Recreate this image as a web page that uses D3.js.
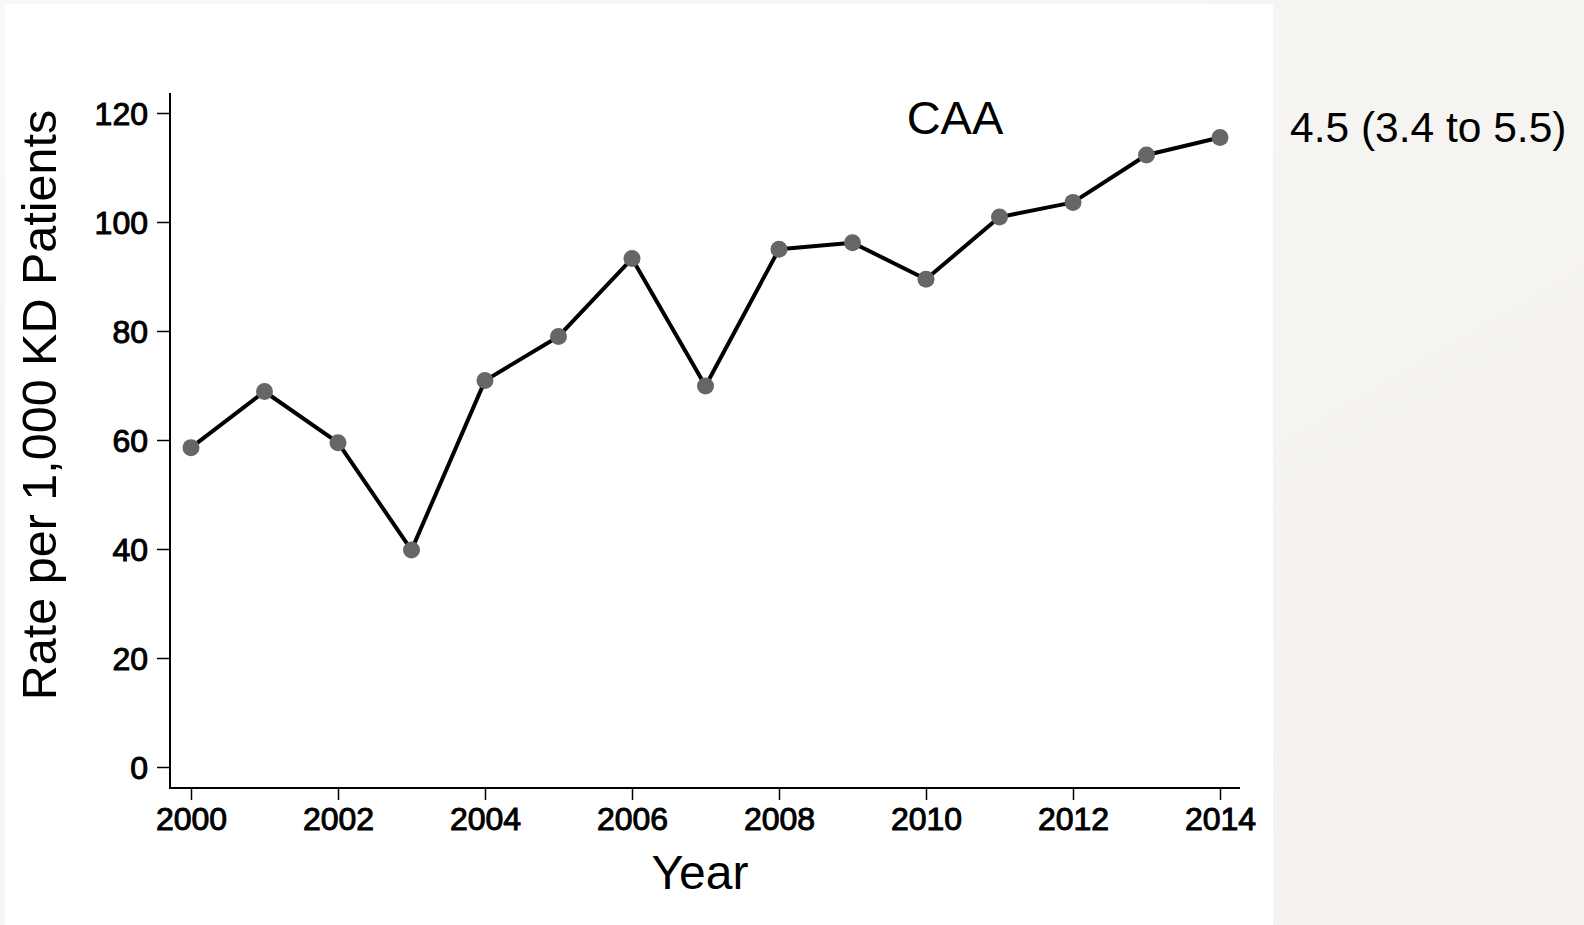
<!DOCTYPE html>
<html>
<head>
<meta charset="utf-8">
<script src="https://cdn.jsdelivr.net/npm/d3@7"></script>
<style>
  html, body { margin: 0; padding: 0; background: #f7f5f2; }
  svg { display: block; }
  text { font-family: "Liberation Sans", Arial, sans-serif; fill: #000; }
</style>
</head>
<body>
<svg id="chart" width="1584" height="925"></svg>
<script>
const years = [2000,2001,2002,2003,2004,2005,2006,2007,2008,2009,2010,2011,2012,2013,2014];
const rates = [58.6,68.9,59.5,39.8,70.9,79.0,93.3,69.9,95.0,96.2,89.5,100.9,103.6,112.3,115.5];
const xTicks = [2000,2002,2004,2006,2008,2010,2012,2014];
const yTicks = [0,20,40,60,80,100,120];
const title = "CAA";
const annotation = "4.5 (3.4 to 5.5)";
const xLabel = "Year";
const yLabel = "Rate per 1,000 KD Patients";

const svg = d3.select("#chart");

// paper background + white plot card
const defs = svg.append("defs");
const grad = defs.append("linearGradient").attr("id","paper").attr("x1","0").attr("y1","0").attr("x2","1").attr("y2","1");
grad.append("stop").attr("offset","0%").attr("stop-color","#f9f8f6");
grad.append("stop").attr("offset","100%").attr("stop-color","#f4f1ee");
svg.append("rect").attr("width",1584).attr("height",925).attr("fill","url(#paper)");
svg.append("rect").attr("x",5).attr("y",4).attr("width",1268).attr("height",921).attr("fill","#ffffff");

const x = d3.scaleLinear().domain([2000, 2014]).range([191, 1220]);
const y = d3.scaleLinear().domain([0, 120]).range([767, 113]);

// Y axis
const yAxisG = svg.append("g").attr("transform", "translate(170,0)");
yAxisG.call(d3.axisLeft(y).tickValues(yTicks).tickSize(13).tickPadding(9).tickFormat(d3.format("d")));
yAxisG.select(".domain").remove();
yAxisG.append("line").attr("x1",0).attr("x2",0).attr("y1",93).attr("y2",789).attr("stroke","#000").attr("stroke-width",2);
yAxisG.selectAll(".tick line").attr("stroke","#000").attr("stroke-width",1.5);
yAxisG.selectAll(".tick text")
  .style("font-family","'Liberation Sans', Arial, sans-serif")
  .style("font-size","32px")
  .attr("fill","#000").attr("stroke","#000").attr("stroke-width",1)
  .attr("dy","0.35em");

// X axis
const xAxisG = svg.append("g").attr("transform", "translate(0,788)");
xAxisG.call(d3.axisBottom(x).tickValues(xTicks).tickSize(12).tickPadding(7).tickFormat(d3.format("d")));
xAxisG.select(".domain").remove();
xAxisG.append("line").attr("x1",169).attr("x2",1240).attr("y1",0).attr("y2",0).attr("stroke","#000").attr("stroke-width",2);
xAxisG.selectAll(".tick line").attr("stroke","#000").attr("stroke-width",1.5);
xAxisG.selectAll(".tick text")
  .style("font-family","'Liberation Sans', Arial, sans-serif")
  .style("font-size","32px")
  .attr("fill","#000").attr("stroke","#000").attr("stroke-width",1);

// Line
const data = years.map((yr, i) => ({yr, v: rates[i]}));
svg.append("path")
  .datum(data)
  .attr("fill","none")
  .attr("stroke","#000")
  .attr("stroke-width",4)
  .attr("stroke-linejoin","round")
  .attr("d", d3.line().x(d => x(d.yr)).y(d => y(d.v)));

svg.selectAll("circle.pt")
  .data(data)
  .join("circle")
  .attr("class","pt")
  .attr("cx", d => x(d.yr))
  .attr("cy", d => y(d.v))
  .attr("r", 8.5)
  .attr("fill","#666666");

// Labels
svg.append("text").attr("x",955).attr("y",134).attr("text-anchor","middle")
  .style("font-size","47px").text(title);

svg.append("text").attr("x",1290).attr("y",142).attr("text-anchor","start")
  .style("font-size","42.5px").text(annotation);

svg.append("text").attr("x",700).attr("y",889).attr("text-anchor","middle")
  .style("font-size","48px").text(xLabel);

svg.append("text").attr("transform","translate(56,405) rotate(-90)").attr("text-anchor","middle")
  .style("font-size","48.5px").text(yLabel);
</script>
</body>
</html>
